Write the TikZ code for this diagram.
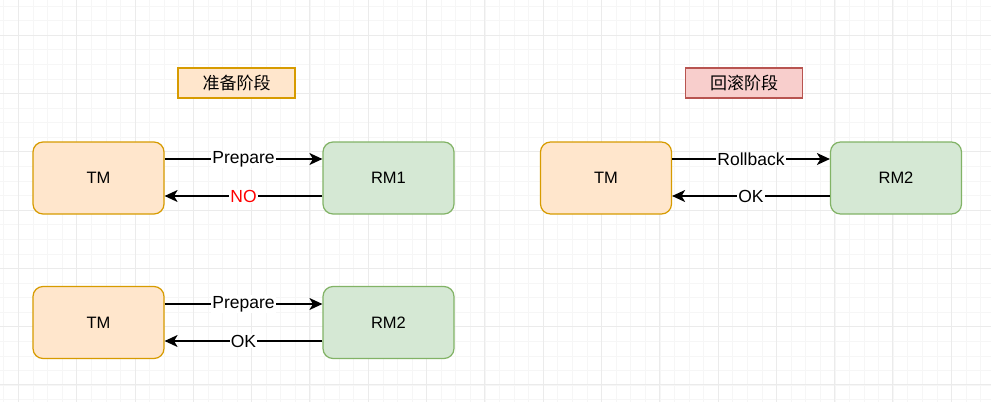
\documentclass[tikz,border=0pt]{standalone}
\usepackage{fontspec}
\setmainfont{Liberation Sans}
\newfontfamily\cjk{Noto Sans CJK SC}
\usetikzlibrary{arrows.meta}

\definecolor{orfill}{HTML}{FFE6CC}
\definecolor{ordraw}{HTML}{D79B00}
\definecolor{gnfill}{HTML}{D5E8D4}
\definecolor{gndraw}{HTML}{82B366}
\definecolor{rdfill}{HTML}{F8CECC}
\definecolor{rddraw}{HTML}{B85450}

\tikzset{
  tmbox/.style={draw=ordraw, fill=orfill, rounded corners=10pt, line width=1.2pt,
    minimum width=131pt, minimum height=72pt, font=\fontsize{16.5}{18}\selectfont},
  rmbox/.style={tmbox, draw=gndraw, fill=gnfill},
  phase/.style={draw=#1, line width=1.2pt, minimum width=117pt, minimum height=30pt,
    font=\cjk\fontsize{17}{19}\selectfont},
  msg/.style={line width=1.3pt, -{Stealth[length=13pt, width=12pt, inset=3.5pt]}},
  lbl/.style={fill=white, inner sep=1pt, font=\fontsize{17.5}{19}\selectfont}
}

\begin{document}
\begin{tikzpicture}[x=1pt,y=-1pt]
\useasboundingbox (0,0) rectangle (991,402);
\fill[white] (0,0) rectangle (991,402);
% grid
\foreach \i in {0,...,70} {
  \draw[black!3.5, line width=0.7pt] (3.8+14.58*\i,0) -- (3.8+14.58*\i,402);
}
\foreach \i in {0,...,29} {
  \draw[black!3.5, line width=0.7pt] (0,6+14.58*\i) -- (991,6+14.58*\i);
}
\foreach \i in {0,...,17} {
  \draw[black!8, line width=0.7pt] (18.3+58.3*\i,0) -- (18.3+58.3*\i,402);
}
\foreach \i in {0,...,6} {
  \draw[black!8, line width=0.7pt] (0,35+58.3*\i) -- (991,35+58.3*\i);
}

% phase titles
\node[phase=ordraw, fill=orfill] (prep) at (236.5,83) {准备阶段};
\node[phase=rddraw, fill=rdfill] (roll) at (744,83) {回滚阶段};

% prepare, RM1 says no
\node[tmbox] (tma) at (98.5,178) {TM};
\node[rmbox] (rma) at (388.5,178) {RM1};
\draw[msg] ([yshift=19pt]tma.east) -- node[lbl] {Prepare} ([yshift=19pt]rma.west);
\draw[msg] ([yshift=-18pt]rma.west) -- node[lbl, text=red] {NO} ([yshift=-18pt]tma.east);

% prepare, RM2 says ok
\node[tmbox] (tmb) at (98.5,322.5) {TM};
\node[rmbox] (rmb) at (388.5,322.5) {RM2};
\draw[msg] ([yshift=18.5pt]tmb.east) -- node[lbl] {Prepare} ([yshift=18.5pt]rmb.west);
\draw[msg] ([yshift=-18.5pt]rmb.west) -- node[lbl] {OK} ([yshift=-18.5pt]tmb.east);

% rollback
\node[tmbox] (tmc) at (606,178) {TM};
\node[rmbox] (rmc) at (896,178) {RM2};
\draw[msg] ([yshift=19pt]tmc.east) -- node[lbl] {Rollback} ([yshift=19pt]rmc.west);
\draw[msg] ([yshift=-18pt]rmc.west) -- node[lbl] {OK} ([yshift=-18pt]tmc.east);
\end{tikzpicture}
\end{document}
